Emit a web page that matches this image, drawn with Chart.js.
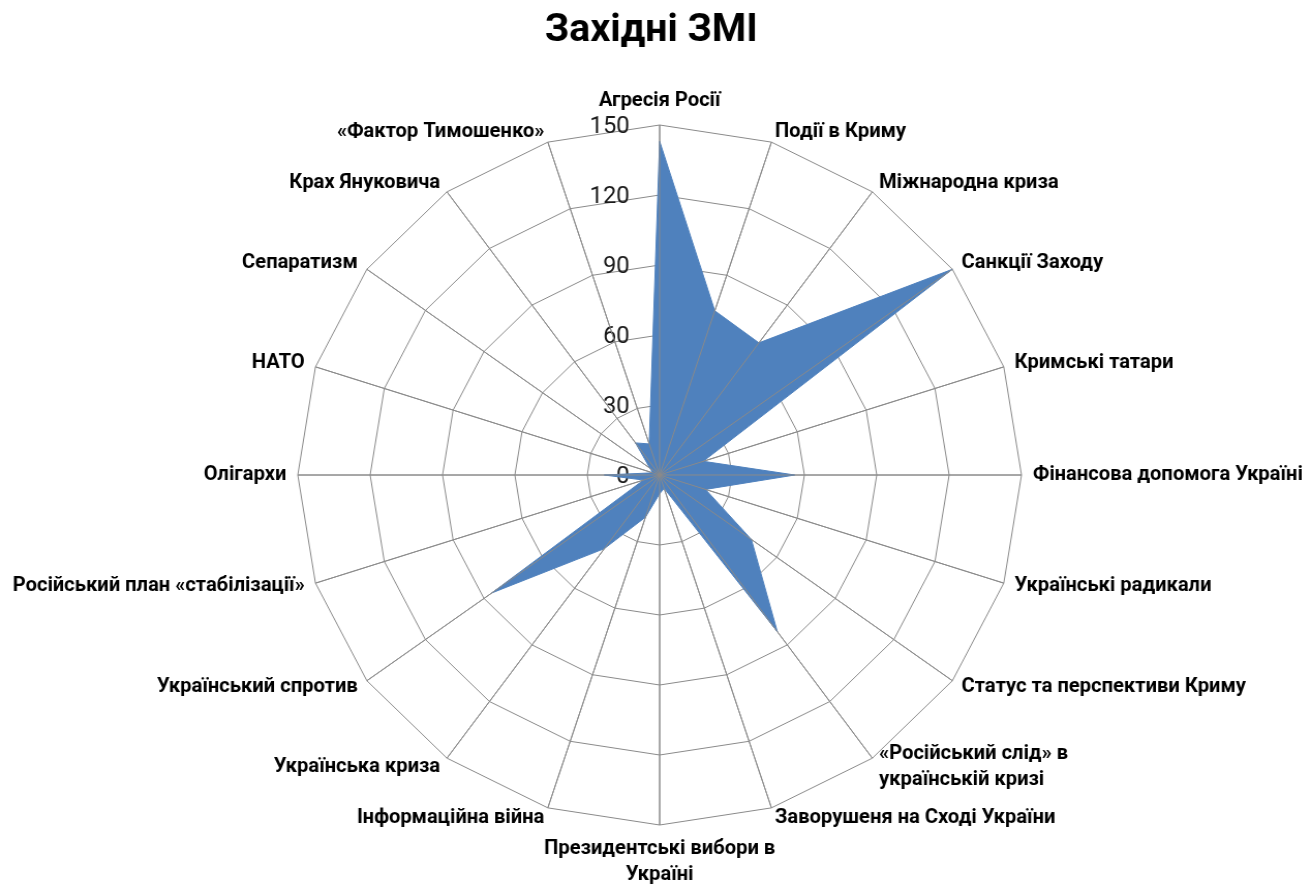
<!DOCTYPE html>
<html>
<head>
<meta charset="utf-8">
<script src="https://cdn.jsdelivr.net/npm/chart.js@4/dist/chart.umd.min.js"></script>
<style>
  html, body { margin: 0; padding: 0; background: #fff; overflow: hidden; }
  #wrap { width: 1268px; height: 885px; transform: scaleX(1.0339); transform-origin: 0 0; }
</style>
</head>
<body>
<div id="wrap"><canvas id="radar" width="1268" height="885"></canvas></div>
<script>
// categories, clockwise from the top
const categories = [
    'Агресія Росії', 'Події в Криму', 'Міжнародна криза', 'Санкції Заходу',
    'Кримські татари', 'Фінансова допомога Україні', 'Українські радикали',
    'Статус та перспективи Криму', ['«Російський слід» в', 'українській кризі'],
    'Заворушеня на Сході України', ['Президентські вибори в', 'Україні'],
    'Інформаційна війна', 'Українська криза', 'Український спротив',
    'Російський план «стабілізації»', 'Олігархи', 'НАТО', 'Сепаратизм',
    'Крах Януковича', '«Фактор Тимошенко»'
];
const westernMedia = [143, 74, 70, 150, 19, 56, 20, 47, 83, 6, 8, 19, 39, 86, 7, 23, 3, 5, 17, 14];
const tickMin = 0;
const tickMax = 150;
const tickStep = 30;

const FONT = 'Roboto';
const CENTER_X = 638;
const CENTER_Y = 475;
const RADIUS = 350;

// radial scale with a fixed centre, Excel-like label placement
class FixedRadialScale extends Chart.RadialLinearScale {
    setCenterPoint() {
        this.xCenter = CENTER_X;
        this.yCenter = CENTER_Y;
        this.drawingArea = RADIUS;
    }
    fit() {
        super.fit();
        // side labels are centred vertically on their axis end
        (this._pointLabelItems || []).forEach((item, i) => {
            const deg = Math.round(this.getIndexAngle(i) * 180 / Math.PI) % 360;
            if (deg % 90 === 0) return;
            const h = item.bottom - item.top;
            const shift = (deg < 90 || deg > 270) ? h / 2 : -h / 2;
            item.y += shift;
            item.top += shift;
            item.bottom += shift;
        });
    }
    drawLabels() {
        const ctx = this.ctx;
        ctx.save();
        ctx.font = '23px ' + FONT;
        ctx.fillStyle = '#1a1a1a';
        ctx.textAlign = 'right';
        ctx.textBaseline = 'middle';
        this.ticks.forEach(t => {
            ctx.fillText(t.label, this.xCenter - 29, this.yCenter - this.getDistanceFromCenterForValue(t.value) + 2);
        });
        ctx.restore();
    }
}
FixedRadialScale.id = 'fixedRadial';
Chart.register(FixedRadialScale);

// category axes are drawn over the filled area
const angleLinesOnTop = {
    id: 'angleLinesOnTop',
    afterDatasetsDraw(chart) {
        const s = chart.scales.r;
        const ctx = chart.ctx;
        ctx.save();
        ctx.strokeStyle = '#8a8a8a';
        ctx.lineWidth = 1;
        ctx.beginPath();
        for (let i = 0; i < categories.length; i++) {
            const p = s.getPointPosition(i, s.drawingArea);
            ctx.moveTo(s.xCenter, s.yCenter);
            ctx.lineTo(p.x, p.y);
        }
        ctx.stroke();
        ctx.restore();
    }
};

new Chart(document.getElementById('radar'), {
    type: 'radar',
    data: {
        labels: categories,
        datasets: [{
            label: 'Західні ЗМІ',
            data: westernMedia,
            backgroundColor: '#4F81BD',
            borderColor: '#4F81BD',
            borderWidth: 1,
            pointRadius: 0,
            fill: true
        }]
    },
    options: {
        responsive: false,
        animation: false,
        layout: { padding: { right: 8 } },
        plugins: {
            legend: { display: false },
            tooltip: { enabled: false },
            title: {
                display: true,
                text: 'Західні ЗМІ',
                color: '#000',
                font: { family: FONT, size: 38, weight: 'bold' },
                padding: { top: 9, bottom: 10 }
            }
        },
        scales: {
            r: {
                type: 'fixedRadial',
                min: tickMin,
                max: tickMax,
                ticks: { stepSize: tickStep, showLabelBackdrop: false },
                grid: { color: '#8a8a8a', lineWidth: 1 },
                angleLines: { color: '#8a8a8a', lineWidth: 1 },
                pointLabels: {
                    color: '#000',
                    padding: 3,
                    font: { family: FONT, size: 19.5, weight: 'bold', lineHeight: 1.35 }
                }
            }
        }
    },
    plugins: [angleLinesOnTop]
});
</script>
</body>
</html>
